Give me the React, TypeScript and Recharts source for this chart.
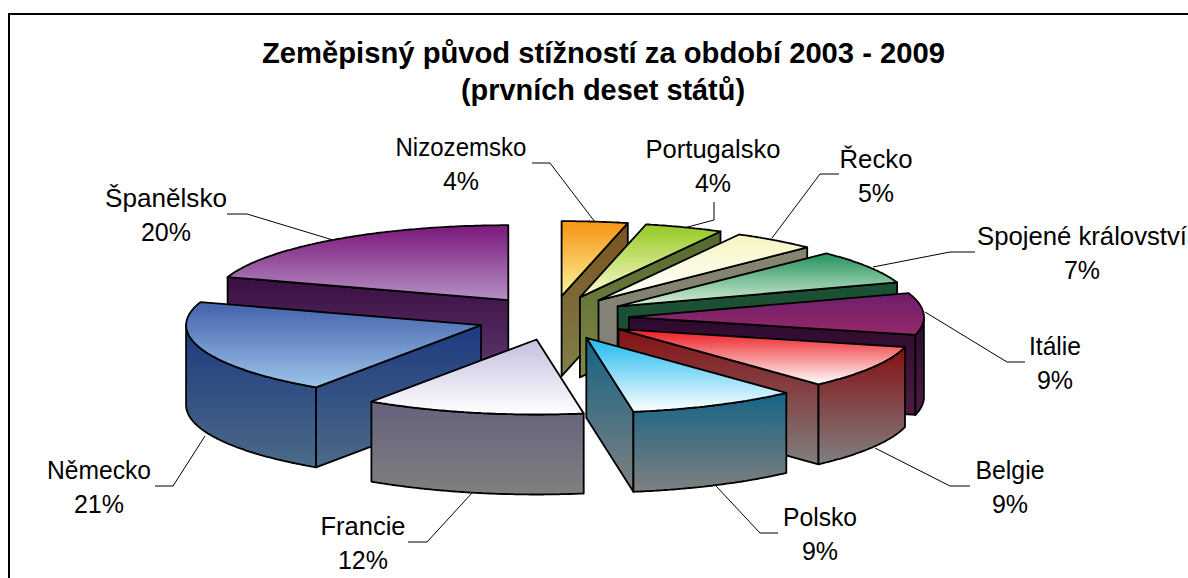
import React from "react";
import { PieChart, Pie } from "recharts";

// ---- data ----
const countries = ["Španělsko", "Nizozemsko", "Portugalsko", "Řecko", "Spojené království", "Itálie", "Belgie", "Polsko", "Francie", "Německo"];
const shares = [20.0, 3.6, 4.3, 4.6, 7.3, 9.0, 9.3, 9.3, 12.0, 20.5];
const titleLines = ["Zeměpisný původ stížností za období 2003 - 2009", "(prvních deset států)"];

// ---- palette ----
const topFrom = ["#7f2080", "#f79a1e", "#9ccc30", "#f8f6c8", "#2f9a65", "#701f6c", "#ef2a30", "#30bff0", "#c8c4e2", "#4a68b0"];
const topTo = ["#b590c5", "#faf59a", "#fffcd0", "#ffffff", "#dcefd8", "#962868", "#ffffff", "#ffffff", "#ffffff", "#9cc4ea"];
const sideFrom = ["#3d1045", "#7a5420", "#566a30", "#85846c", "#1c5035", "#2f0a30", "#851518", "#1a6585", "#66637c", "#1f3c80"];
const sideTo = ["#5e3a70", "#80804e", "#808848", "#808080", "#1c5035", "#4c1c40", "#808080", "#808080", "#808080", "#4c6a88"];

// ---- layout ----
const W = 1188;
const H = 578;
const CX = 553;
const CY = 318;
const RX = 295;
const SQUASH = 0.2542;
const EXPLODE_X = 76;
const EXPLODE_Y = 22;
const DEPTH = 80;
const FONT = "'Liberation Sans', Arial, sans-serif";

type LabelSpot = { x: number; y: number; w: number; line: string };
const labelSpots: Record<string, LabelSpot> = {
  "Španělsko": { x: 166, y: 207, w: 122, line: "M227 214H247L333 240" },
  "Nizozemsko": { x: 461, y: 156, w: 131, line: "M532 163H550L595 222" },
  "Portugalsko": { x: 713, y: 158, w: 135, line: "M714 202V220L684 228" },
  "Řecko": { x: 876, y: 168, w: 73, line: "M839 174H820L772 238" },
  "Spojené království": { x: 1082, y: 245, w: 210, line: "M975 252H950L873 267" },
  "Itálie": { x: 1055, y: 355, w: 52, line: "M1025 362H1007L925 312" },
  "Belgie": { x: 1010, y: 479, w: 69, line: "M970 486H950L875 448" },
  "Polsko": { x: 820, y: 526, w: 74, line: "M778 533H760L716 486" },
  "Francie": { x: 363, y: 535, w: 85, line: "M408 542H427L472 493" },
  "Německo": { x: 99, y: 479, w: 104, line: "M155 486H173L205 436" },
};

const backLayer = new Set(["Španělsko", "Německo"]);
const total = shares.reduce((a, b) => a + b, 0);
const firstAngle = 90 + (shares[0] / total) * 360;
const rows = countries.map((name, i) => ({ name, value: shares[i] }));

type P = [number, number];
const toD = (pts: P[]) => "M" + pts.map((p) => `${p[0].toFixed(1)} ${p[1].toFixed(1)}`).join("L") + "Z";

function Slice3D(props: any) {
  const { cx, cy, outerRadius, startAngle, endAngle, index, name, layer } = props;
  const isBack = backLayer.has(name);
  if ((layer === "back") !== isBack) return null;
  const rad = (d: number) => (d * Math.PI) / 180;
  const mid = (startAngle + endAngle) / 2;
  const ox = cx + EXPLODE_X * Math.cos(rad(mid));
  const oy = cy - EXPLODE_Y * Math.sin(rad(mid));
  const at = (a: number): P => [ox + outerRadius * Math.cos(rad(a)), oy - outerRadius * SQUASH * Math.sin(rad(a))];
  const down = (p: P): P => [p[0], p[1] + DEPTH];
  const arc: number[] = [];
  const steps = Math.ceil(Math.abs(startAngle - endAngle) * 2);
  for (let i = 0; i <= steps; i++) arc.push(startAngle + ((endAngle - startAngle) * i) / steps);
  const apex: P = [ox, oy];
  const rim = arc.map(at);
  const start = rim[0];
  const end = rim[rim.length - 1];
  const faces: string[] = [];
  if (start[0] < apex[0] - 0.5) faces.push(toD([apex, start, down(start), down(apex)]));
  if (end[0] > apex[0] + 0.5) faces.push(toD([end, apex, down(apex), down(end)]));
  const front = arc.filter((a) => Math.sin(rad(a)) <= 0).map(at);
  if (front.length > 1) faces.push(toD([...front, ...front.slice().reverse().map(down)]));
  const topId = `top-${index}`;
  const sideId = `side-${index}`;
  return (
    <g>
      <defs>
        <linearGradient id={topId} x1="0" y1="0" x2="0" y2="1">
          <stop offset="0.08" stopColor={topFrom[index]} />
          <stop offset="1" stopColor={topTo[index]} />
        </linearGradient>
        <linearGradient id={sideId} x1="0" y1="0" x2="0" y2="1">
          <stop offset="0.05" stopColor={sideFrom[index]} />
          <stop offset="1" stopColor={sideTo[index]} />
        </linearGradient>
      </defs>
      {faces.map((d, i) => (
        <path key={i} d={d} fill={`url(#${sideId})`} stroke="#000" strokeWidth={1.8} strokeLinejoin="round" />
      ))}
      <path d={toD([apex, ...rim])} fill={`url(#${topId})`} stroke="#000" strokeWidth={1.8} strokeLinejoin="round" />
    </g>
  );
}

function SliceLabel(props: any) {
  const spot = labelSpots[props.name];
  if (!spot) return null;
  return (
    <g>
      <path d={spot.line} fill="none" stroke="#000" strokeWidth={1} />
      <text x={spot.x} y={spot.y} textAnchor="middle" fontFamily={FONT} fontSize={25} fill="#000" textLength={spot.w} lengthAdjust="spacingAndGlyphs">
        {props.name}
      </text>
      <text x={spot.x} y={spot.y + 33.5} textAnchor="middle" fontFamily={FONT} fontSize={25} fill="#000">
        {Math.round(props.value)}%
      </text>
    </g>
  );
}

const pieProps = {
  data: rows,
  dataKey: "value",
  nameKey: "name",
  cx: CX,
  cy: CY,
  innerRadius: 0,
  outerRadius: RX,
  startAngle: firstAngle,
  endAngle: firstAngle - 360,
  stroke: "none",
  isAnimationActive: false,
};

export default function App() {
  return (
    <div style={{ position: "absolute", left: 0, top: 0, width: W, height: H, background: "#fff", overflow: "hidden" }}>
      <PieChart width={W} height={H} margin={{ top: 0, right: 0, bottom: 0, left: 0 }}>
        <path d={`M9 ${H}V14H${W}`} fill="none" stroke="#000" strokeWidth={2} />
        <text x={603.5} y={63} textAnchor="middle" fontFamily={FONT} fontWeight="bold" fontSize={29} fill="#000" textLength={683} lengthAdjust="spacingAndGlyphs">{titleLines[0]}</text>
        <text x={603} y={100} textAnchor="middle" fontFamily={FONT} fontWeight="bold" fontSize={29} fill="#000" textLength={284} lengthAdjust="spacingAndGlyphs">{titleLines[1]}</text>
        <Pie {...pieProps} label={false} labelLine={false} shape={(p: any) => <Slice3D {...p} layer="back" />} />
        <Pie {...pieProps} label={(p: any) => <SliceLabel {...p} />} labelLine={false} shape={(p: any) => <Slice3D {...p} layer="front" />} />
      </PieChart>
    </div>
  );
}
